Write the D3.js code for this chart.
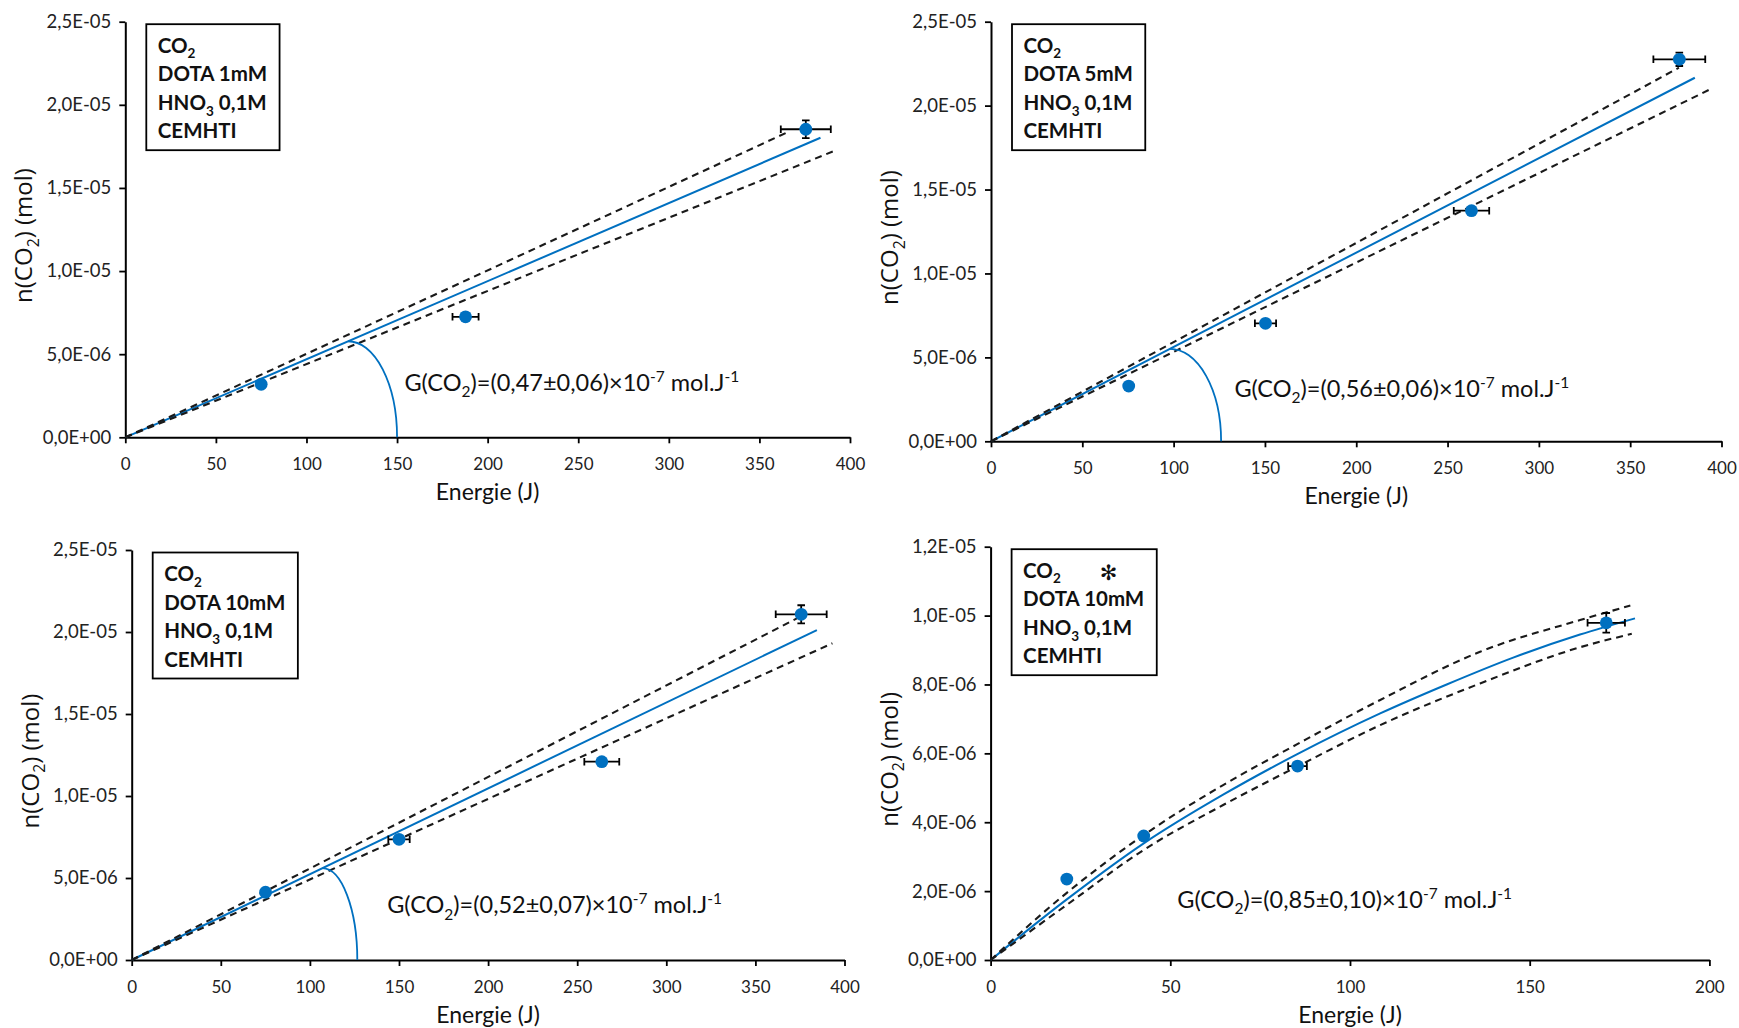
<!DOCTYPE html>
<html>
<head>
<meta charset="utf-8">
<script src="https://cdn.jsdelivr.net/npm/d3@7"></script>
<style>
  html, body { margin: 0; padding: 0; background: #ffffff; }
  svg { display: block; }
</style>
</head>
<body>
<svg id="chart" width="1739" height="1028"></svg>
<script>
// ---------------- DATA ----------------
const energyTicks400 = [0, 50, 100, 150, 200, 250, 300, 350, 400];
const energyTicks200 = [0, 50, 100, 150, 200];
const nTicks25 = [0, 5e-6, 1e-5, 1.5e-5, 2e-5, 2.5e-5];
const nTickLabels25 = ["0,0E+00", "5,0E-06", "1,0E-05", "1,5E-05", "2,0E-05", "2,5E-05"];
const nTicks12 = [0, 2e-6, 4e-6, 6e-6, 8e-6, 1e-5, 1.2e-5];
const nTickLabels12 = ["0,0E+00", "2,0E-06", "4,0E-06", "6,0E-06", "8,0E-06", "1,0E-05", "1,2E-05"];

const concentrations = ["1mM", "5mM", "10mM", "10mM"];
const gValues = ["0,47±0,06", "0,56±0,06", "0,52±0,07", "0,85±0,10"];

// Panel A : DOTA 1mM
const energyA = [75, 187.8, 375.6];
const nA = [3.19e-6, 7.25e-6, 1.853e-5];
const energyErrA = [0, 7.2, 13.8];
const nErrA = [0, 0, 5.3e-7];
const fitA = [[0, 0], [383.7, 1.802e-5]];
const upperA = [[0, 0], [364.9, 1.832e-5]];
const lowerA = [[0, 0], [391.6, 1.724e-5]];
const angleA = [123, 150];

// Panel B : DOTA 5mM
const energyB = [75.4, 150.3, 263.1, 376.9];
const nB = [3.29e-6, 7.03e-6, 1.374e-5, 2.276e-5];
const energyErrB = [0, 5.8, 9.7, 14.2];
const nErrB = [0, 0, 2e-7, 4e-7];
const fitB = [[0, 0], [385.4, 2.166e-5]];
const upperB = [[0, 0], [376.7, 2.226e-5]];
const lowerB = [[0, 0], [393, 2.093e-5]];
const angleB = [98, 126];

// Panel C : DOTA 10mM
const energyC = [75.1, 150, 263.8, 375.7];
const nC = [4.13e-6, 7.36e-6, 1.209e-5, 2.108e-5];
const energyErrC = [0, 6, 9.8, 14.3];
const nErrC = [0, 0, 0, 5.5e-7];
const fitC = [[0, 0], [384.5, 2.012e-5]];
const upperC = [[0, 0], [375.1, 2.093e-5]];
const lowerC = [[0, 0], [393.2, 1.931e-5]];
const angleC = [107, 126.6];

// Panel D : DOTA 10mM (*)
const energyD = [21.2, 42.6, 85.4, 171.3];
const nD = [2.35e-6, 3.60e-6, 5.63e-6, 9.79e-6];
const energyErrD = [0, 0, 2.6, 5.2];
const nErrD = [0, 0, 0, 2.85e-7];
const fitD = [[0, 0], [21.2, 1.76e-6], [42.5, 3.38e-6], [64.7, 4.80e-6], [85.2, 5.97e-6],
              [108.4, 7.16e-6], [126.9, 8.0e-6], [145.4, 8.78e-6], [164, 9.45e-6], [179.3, 9.92e-6]];
const upperD = [[0, 0], [21.2, 1.95e-6], [42.5, 3.62e-6], [64.7, 5.08e-6], [85.2, 6.26e-6],
                [108.4, 7.55e-6], [136.2, 8.95e-6], [164, 9.87e-6], [178, 1.029e-5]];
const lowerD = [[0, 0], [21.2, 1.6e-6], [42.5, 3.19e-6], [64.7, 4.5e-6], [85.2, 5.61e-6],
                [108.4, 6.82e-6], [136.2, 8.03e-6], [164, 9.08e-6], [178.4, 9.47e-6]];

// ---------------- LAYOUT / STYLE ----------------
const BLUE = "#0070C0";
const FONT_C = "Lato, 'Open Sans', sans-serif";
const FONT_T = "'Open Sans', 'Noto Sans', sans-serif";

const panels = [
  { layout: { left: 125.3, right: 850, top: 21.7, bottom: 437.3, eqX: 404.4, eqY: 390.7 },
    xMax: 400, xTicks: energyTicks400, yMax: 2.5e-5, yTicks: nTicks25, yLabels: nTickLabels25,
    energy: energyA, n: nA, eErr: energyErrA, nErr: nErrA, fit: fitA, upper: upperA, lower: lowerA,
    angle: angleA, conc: concentrations[0], g: gValues[0], star: false, curved: false },
  { layout: { left: 991, right: 1721.5, top: 21.7, bottom: 441.3, eqX: 1234.4, eqY: 396.7 },
    xMax: 400, xTicks: energyTicks400, yMax: 2.5e-5, yTicks: nTicks25, yLabels: nTickLabels25,
    energy: energyB, n: nB, eErr: energyErrB, nErr: nErrB, fit: fitB, upper: upperB, lower: lowerB,
    angle: angleB, conc: concentrations[1], g: gValues[1], star: false, curved: false },
  { layout: { left: 131.7, right: 844.5, top: 550, bottom: 960, eqX: 387.2, eqY: 913.3 },
    xMax: 400, xTicks: energyTicks400, yMax: 2.5e-5, yTicks: nTicks25, yLabels: nTickLabels25,
    energy: energyC, n: nC, eErr: energyErrC, nErr: nErrC, fit: fitC, upper: upperC, lower: lowerC,
    angle: angleC, conc: concentrations[2], g: gValues[2], star: false, curved: false },
  { layout: { left: 990.6, right: 1709.4, top: 546.7, bottom: 960, eqX: 1177.3, eqY: 907.7 },
    xMax: 200, xTicks: energyTicks200, yMax: 1.2e-5, yTicks: nTicks12, yLabels: nTickLabels12,
    energy: energyD, n: nD, eErr: energyErrD, nErr: nErrD, fit: fitD, upper: upperD, lower: lowerD,
    angle: null, conc: concentrations[3], g: gValues[3], star: true, curved: true }
];

const svg = d3.select("#chart");
svg.append("rect").attr("width", 1739).attr("height", 1028).attr("fill", "#fff");

// rich text helper: parts = [{t, s}] with s = 'sub' | 'sup' | undefined
function richText(textSel, parts, fs) {
  let shift = 0;
  parts.forEach(p => {
    let target = 0, size = fs;
    if (p.s === "sub") { target = 0.28 * fs; size = 0.66 * fs; }
    else if (p.s === "sup") { target = -0.38 * fs; size = 0.66 * fs; }
    const ts = textSel.append("tspan").text(p.t).attr("font-size", size);
    const dy = target - shift;
    if (dy !== 0) ts.attr("dy", dy);
    shift = target;
  });
}

panels.forEach(p => {
  const L = p.layout;
  const x = d3.scaleLinear().domain([0, p.xMax]).range([L.left, L.right]);
  const y = d3.scaleLinear().domain([0, p.yMax]).range([L.bottom, L.top]);
  const g = svg.append("g");

  // X axis
  const xAxis = d3.axisBottom(x).tickValues(p.xTicks).tickSize(6).tickSizeOuter(0)
    .tickFormat(d3.format("d"));
  const gx = g.append("g").attr("transform", `translate(0,${L.bottom})`).call(xAxis);
  gx.select(".domain").attr("stroke", "#000").attr("stroke-width", 2);
  gx.selectAll(".tick line").attr("stroke", "#000").attr("stroke-width", 1.8);
  gx.selectAll(".tick text").attr("y", 33).attr("dy", null)
    .attr("font-family", FONT_C).attr("font-size", 17).attr("fill", "#222");

  // Y axis
  const yAxis = d3.axisLeft(y).tickValues(p.yTicks).tickSize(6).tickSizeOuter(0)
    .tickPadding(8).tickFormat((d, i) => p.yLabels[i]);
  const gy = g.append("g").attr("transform", `translate(${L.left},0)`).call(yAxis);
  gy.select(".domain").attr("stroke", "#000").attr("stroke-width", 2);
  gy.selectAll(".tick line").attr("stroke", "#000").attr("stroke-width", 1.8);
  gy.selectAll(".tick text").attr("font-family", FONT_C).attr("font-size", 18.5).attr("fill", "#222");

  // axis titles
  g.append("text")
    .attr("x", (L.left + L.right) / 2).attr("y", L.bottom + 63)
    .attr("text-anchor", "middle").attr("font-family", FONT_C).attr("font-size", 23)
    .attr("fill", "#111").text("Energie (J)");

  const yt = g.append("text")
    .attr("transform", `translate(${L.left - 93},${(L.top + L.bottom) / 2 + 6}) rotate(-90)`)
    .attr("text-anchor", "middle").attr("font-family", FONT_T).attr("font-size", 24)
    .attr("fill", "#111");
  richText(yt, [{ t: "n(CO" }, { t: "2", s: "sub" }, { t: ") (mol)" }], 24);

  // fit & confidence lines
  const line = d3.line().x(d => x(d[0])).y(d => y(d[1]));
  if (p.curved) line.curve(d3.curveMonotoneX);

  g.append("path").datum(p.fit).attr("d", line)
    .attr("fill", "none").attr("stroke", BLUE).attr("stroke-width", 2);
  [p.upper, p.lower].forEach(band => {
    g.append("path").datum(band).attr("d", line)
      .attr("fill", "none").attr("stroke", "#1a1a1a").attr("stroke-width", 2.1)
      .attr("stroke-dasharray", "7,5");
  });

  // angle arc
  if (p.angle) {
    const fe = p.fit[p.fit.length - 1];
    const slope = fe[1] / fe[0];
    const sx = x(p.angle[0]), sy = y(slope * p.angle[0]);
    const ex = x(p.angle[1]), ey = y(0);
    g.append("path")
      .attr("d", `M${sx},${sy} A${ex - sx},${ey - sy} 0 0 1 ${ex},${ey}`)
      .attr("fill", "none").attr("stroke", BLUE).attr("stroke-width", 1.8);
  }

  // points with error bars
  const pts = p.energy.map((e, i) => ({ e, n: p.n[i], ee: p.eErr[i], ne: p.nErr[i] }));
  const cap = 3.8;
  pts.forEach(d => {
    const cx = x(d.e), cy = y(d.n);
    if (d.ee > 0) {
      const x0 = x(d.e - d.ee), x1 = x(d.e + d.ee);
      g.append("path").attr("d", `M${x0},${cy}H${x1}M${x0},${cy - cap}V${cy + cap}M${x1},${cy - cap}V${cy + cap}`)
        .attr("stroke", "#000").attr("stroke-width", 1.8).attr("fill", "none");
    }
    if (d.ne > 0) {
      const y0 = y(d.n - d.ne), y1 = y(d.n + d.ne);
      g.append("path").attr("d", `M${cx},${y0}V${y1}M${cx - cap},${y0}H${cx + cap}M${cx - cap},${y1}H${cx + cap}`)
        .attr("stroke", "#000").attr("stroke-width", 1.8).attr("fill", "none");
    }
  });
  g.selectAll("circle.pt").data(pts).join("circle").attr("class", "pt")
    .attr("cx", d => x(d.e)).attr("cy", d => y(d.n)).attr("r", 6.4).attr("fill", BLUE);

  // equation
  const eq = g.append("text").attr("x", L.eqX).attr("y", L.eqY)
    .attr("font-family", FONT_C).attr("font-size", 23.5).attr("fill", "#111");
  richText(eq, [{ t: "G(CO" }, { t: "2", s: "sub" }, { t: ")=(" + p.g + ")×10" },
                { t: "-7", s: "sup" }, { t: " mol.J" }, { t: "-1", s: "sup" }], 23.5);

  // label box
  const bx = L.left + 21, by = L.top + 2.5;
  const box = g.append("g");
  const rect = box.append("rect").attr("x", bx).attr("y", by).attr("height", 126)
    .attr("fill", "#fff").attr("stroke", "#000").attr("stroke-width", 1.8);
  const lines = [
    [{ t: "CO" }, { t: "2", s: "sub" }],
    [{ t: "DOTA " + p.conc }],
    [{ t: "HNO" }, { t: "3", s: "sub" }, { t: " 0,1M" }],
    [{ t: "CEMHTI" }]
  ];
  const offs = [28.5, 57, 85.8, 114];
  let maxW = 0;
  lines.forEach((ln, i) => {
    const t = box.append("text").attr("x", bx + 11.5).attr("y", by + offs[i])
      .attr("font-family", FONT_C).attr("font-weight", "bold").attr("font-size", 20.5).attr("fill", "#111");
    richText(t, ln, 20.5);
    maxW = Math.max(maxW, t.node().getComputedTextLength());
  });
  rect.attr("width", maxW + 24);
  if (p.star) {
    box.append("text").attr("x", bx + 97).attr("y", by + 31).attr("text-anchor", "middle")
      .attr("font-family", "'DejaVu Sans', sans-serif").attr("font-weight", "bold")
      .attr("font-size", 21).attr("fill", "#111").text("✻");
  }
});
</script>
</body>
</html>
